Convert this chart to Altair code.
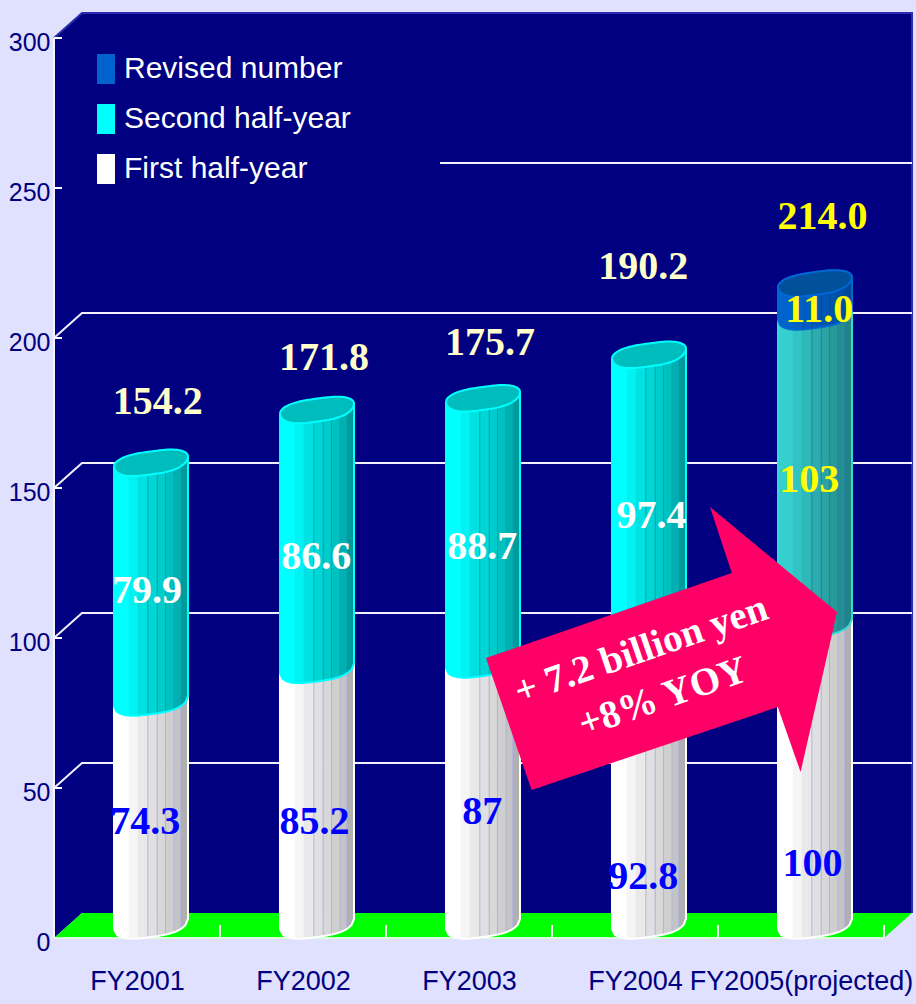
import math
import altair as alt
import pandas as pd

# ---- values ----
years = ["FY2001", "FY2002", "FY2003", "FY2004", "FY2005(projected)"]
first_half = [74.3, 85.2, 87, 92.8, 100]
second_half = [79.9, 86.6, 88.7, 97.4, 103]
revised = [0, 0, 0, 0, 11.0]
totals = [154.2, 171.8, 175.7, 190.2, 214.0]
y_ticks = [0, 50, 100, 150, 200, 250, 300]
legend_names = ["Revised number", "Second half-year", "First half-year"]

# where the value labels rest, in axis units
first_label_at = [38.7, 38.7, 42, 20.3, 24.7]
second_label_at = [115.7, 127, 130.3, 140.7, 152.7]
revised_label_at = [209.3]
total_label_at = [178.7, 193.3, 198.3, 223.7, 240.3]
first_label_x = [0.55, 1.57, 2.58, 3.55, 4.57]
second_label_x = [0.56, 1.58, 2.58, 3.6, 4.55]
revised_label_x = [4.61]
total_label_x = [0.625, 1.627, 2.627, 3.55, 4.63]

# ---- geometry of the pseudo-3D box and cylinders ----
PX_X = 166.0          # pixels per category
PX_Y = 3.0            # pixels per axis unit
DEPTH_X = 28 / PX_X   # box depth along x
DEPTH_Y = 25 / PX_Y   # box depth along y
HALF_W = 37 / PX_X    # cylinder half width
BAR_SHIFT = 14 / PX_X

# shaded strips across a cylinder, as fractions of its width
strip_edges = [0, 0.2, 0.32, 0.457, 0.583, 0.695, 0.81, 0.9, 1]
rib_edges = [0.457, 0.583, 0.695, 0.81, 0.9]
shades = {
    "white": ["#ffffff", "#f5f5f5", "#e9e9e9", "#e0e0e0", "#d8d8d8", "#cfcfcf", "#c4c4c4", "#b0b0b0"],
    "cyan": ["#00ffff", "#00f2f2", "#00e2e2", "#00d6d6", "#00cccc", "#00c0c0", "#00b0b0", "#009c9c"],
    "teal": ["#35cfcf", "#32c4c4", "#2fb8b8", "#2cadad", "#2aa3a3", "#279999", "#248f8f", "#208585"],
    "blue": ["#0062cc", "#0060c8", "#005cc0", "#0058b8", "#0056b4", "#0052ac", "#004ea4", "#00489c"],
}
rib_colors = {"white": "#b4b4e0", "cyan": "#00a8b4", "teal": "#2a7fa8", "blue": "#004a9c"}
edge_colors = {"white": "#ffffff", "cyan": "#00ffff", "teal": "#38d8d8", "blue": "#0066d0"}
cap_fill = {"cyan": "#00bdbd", "blue": "#00509a"}
cap_edge = {"cyan": "#00ffff", "blue": "#0068d8"}


def bulge(u):
    return math.sqrt(max(0, 1 - abs(u) ** 3))


def front(u):
    """Rise of the near edge of a cylinder section above its level, in axis units."""
    return (14 + 5 * u - 13 * bulge(u)) / PX_Y


def back(u):
    """Rise of the far edge of a cylinder section above its level, in axis units."""
    return (14 + 5 * u + 10 * bulge(u)) / PX_Y


def samples(a, b, n=8):
    return [a + (b - a) * i / n for i in range(n + 1)]


strips, ribs, outlines, caps = [], [], [], []


def add_segment(idx, base, top, tone, name):
    cx = idx + 0.5 + BAR_SHIFT
    for s in range(len(strip_edges) - 1):
        lo = -1 + 2 * strip_edges[s]
        hi = -1 + 2 * strip_edges[s + 1]
        for u in samples(lo, min(hi + 0.01, 1)):
            strips.append({
                "key": f"{name}-{idx}-{s}", "x": cx + u * HALF_W,
                "y": top + front(u), "y2": base + front(u), "c": shades[tone][s],
            })
    for e in rib_edges:
        u = -1 + 2 * e
        ribs.append({"x": cx + u * HALF_W, "y": top + front(u), "y2": base + front(u), "c": rib_colors[tone]})
    us = samples(-1, 1, 30)
    path = [(-1, top + front(-1))] + [(u, base + front(u)) for u in us] + [(1, top + front(1))]
    for n, (u, v) in enumerate(path):
        outlines.append({"key": f"{name}-{idx}", "x": cx + u * HALF_W, "y": v, "seq": n, "c": edge_colors[tone]})


def add_cap(idx, level, tone):
    cx = idx + 0.5 + BAR_SHIFT
    us = [-math.cos(math.pi * i / 40) for i in range(41)]
    for u in us:
        caps.append({"key": f"cap-{idx}", "x": cx + u * HALF_W, "y": level + back(u), "y2": level + front(u), "c": cap_fill[tone]})
    ring = [(u, level + back(u)) for u in us] + [(u, level + front(u)) for u in reversed(us)]
    for n, (u, v) in enumerate(ring):
        outlines.append({"key": f"capline-{idx}", "x": cx + u * HALF_W, "y": v, "seq": n, "c": cap_edge[tone]})


for i in range(len(years)):
    a = first_half[i]
    b = a + second_half[i]
    c = b + revised[i]
    add_segment(i, 0, a, "white", "first")
    add_segment(i, a, b, "teal" if revised[i] else "cyan", "second")
    if revised[i]:
        add_segment(i, b, c, "blue", "revised")
    add_cap(i, c, "blue" if revised[i] else "cyan")

strips_df = pd.DataFrame(strips)
ribs_df = pd.DataFrame(ribs)
outlines_df = pd.DataFrame(outlines)
caps_df = pd.DataFrame(caps)

n_years = len(years)
top = y_ticks[-1]

X_MAX = 860 / PX_X
Y_MAX = 928 / PX_Y
sx = alt.Scale(domain=[0, X_MAX], nice=False, zero=False)
sy = alt.Scale(domain=[0, Y_MAX], nice=False, zero=False)

# the category axis names the slots between its ticks
x_axis = alt.Axis(
    values=[i + 0.5 for i in range(n_years)],
    labelExpr="{}[floor(datum.value)]".format(years),
    labelFont="Liberation Sans", labelFontSize=27, labelColor="#000080",
    labelPadding=30, tickSize=0, domain=False, grid=False, labelOverlap=False,
    labelFlush=False, labelBound=False, labelLimit=400,
)
y_axis = alt.Axis(
    values=y_ticks,
    labelFont="Liberation Sans", labelFontSize=25, labelColor="#000080",
    labelPadding=4, labelOffset=4, tickSize=0, domain=False, grid=False, labelOverlap=False,
)
X = alt.X("x:Q", scale=sx, title=None, axis=x_axis)
Y = alt.Y("y:Q", scale=sy, title=None, axis=y_axis, stack=None)
C = alt.Color("c:N", scale=None)

# back and left walls
walls = alt.Chart(pd.DataFrame([
    {"x": 0, "y": top, "y2": 0},
    {"x": DEPTH_X, "y": top + DEPTH_Y, "y2": DEPTH_Y},
    {"x": n_years + DEPTH_X, "y": top + DEPTH_Y, "y2": DEPTH_Y},
])).mark_area(color="#000080").encode(X, Y, y2="y2:Q")

# floor
floor = alt.Chart(pd.DataFrame([
    {"x": 0, "y": 0, "y2": 0},
    {"x": DEPTH_X, "y": DEPTH_Y, "y2": 0},
    {"x": n_years, "y": DEPTH_Y, "y2": 0},
    {"x": n_years + DEPTH_X, "y": DEPTH_Y, "y2": DEPTH_Y},
])).mark_area(color="#00ff00").encode(X, Y, y2="y2:Q")

wall_edge = alt.Chart(pd.DataFrame([
    {"x": 0, "y": top, "seq": 0},
    {"x": DEPTH_X, "y": top + DEPTH_Y, "seq": 1},
    {"x": n_years + DEPTH_X, "y": top + DEPTH_Y, "seq": 2},
    {"x": n_years + DEPTH_X, "y": DEPTH_Y, "seq": 3},
])).mark_line(color="#2c2cb0", strokeWidth=2).encode(X, Y, order="seq:Q")

# gridlines: a slanted run on the left wall, then straight along the back wall
grid_rows = []
for v in y_ticks[1:-1]:
    grid_rows += [
        {"key": v, "x": 0, "y": v, "seq": 0},
        {"key": v, "x": DEPTH_X, "y": v + DEPTH_Y, "seq": 1},
        {"key": v, "x": n_years + DEPTH_X, "y": v + DEPTH_Y, "seq": 2},
    ]
grid = alt.Chart(pd.DataFrame(grid_rows)).mark_line(color="#f0f0ff", strokeWidth=2).encode(
    X, Y, detail="key:N", order="seq:Q"
)

# opaque panel behind the legend
legend_panel = alt.Chart(pd.DataFrame([
    {"x": 1 / PX_X, "x2": 386 / PX_X, "y": 246, "y2": 290}
])).mark_rect(color="#000080").encode(X, x2="x2:Q", y=Y, y2="y2:Q")

# y-axis ticks reach into the box
y_tick_marks = alt.Chart(pd.DataFrame({"y": y_ticks, "x": [0.0] * 7, "x2": [8 / PX_X] * 7})).mark_rule(
    color="#ffffff", strokeWidth=2
).encode(X, x2="x2:Q", y=Y)

y_spine = alt.Chart(pd.DataFrame([{"x": 0, "y": 0, "y2": top}])).mark_rule(
    color="#f4f4ff", strokeWidth=2
).encode(X, y=Y, y2="y2:Q")

# category ticks across the floor and the front edge
floor_ticks = alt.Chart(pd.DataFrame({
    "x": list(range(1, n_years + 1)), "y": [0] * n_years, "y2": [13 / PX_Y] * n_years,
})).mark_rule(color="#ecffec", strokeWidth=2).encode(X, y=Y, y2="y2:Q")

front_edge = alt.Chart(pd.DataFrame([{"x": 0, "x2": n_years, "y": 0}])).mark_rule(
    color="#d8ffd8", strokeWidth=2
).encode(X, x2="x2:Q", y=Y)

# cylinders
bodies = alt.Chart(strips_df).mark_area().encode(X, Y, y2="y2:Q", color=C, detail="key:N")
rib_lines = alt.Chart(ribs_df).mark_rule(strokeWidth=1).encode(X, y=Y, y2="y2:Q", color=C)
cap_fills = alt.Chart(caps_df).mark_area().encode(X, Y, y2="y2:Q", color=C, detail="key:N")
edges = alt.Chart(outlines_df).mark_line(strokeWidth=2).encode(X, Y, color=C, detail="key:N", order="seq:Q")


def labels(texts, xs, ys, color, size):
    df = pd.DataFrame({"t": texts, "x": xs, "y": ys})
    return alt.Chart(df).mark_text(
        font="Liberation Serif", fontWeight="bold", fontSize=size, color=color, baseline="middle"
    ).encode(X, Y, text="t:N")


first_labels = labels([f"{v:g}" for v in first_half], first_label_x, first_label_at, "#0000ff", 40)
second_labels = labels([f"{v:g}" for v in second_half[:4]], second_label_x[:4], second_label_at[:4], "#ffffff", 40)
teal_label = labels([f"{second_half[4]:g}"], second_label_x[4:], second_label_at[4:], "#ffff00", 40)
revised_labels = labels([f"{revised[4]:.1f}"], revised_label_x, revised_label_at, "#ffff00", 40)
total_labels = labels([f"{v:.1f}" for v in totals[:4]], total_label_x[:4], total_label_at[:4], "#ffffcc", 40)
total_last = labels([f"{totals[4]:.1f}"], total_label_x[4:], total_label_at[4:], "#ffff00", 40)

# callout arrow, drawn as one symbol with a custom outline
arrow_path = "M-0.87,0.09 L0.359,-0.335 L0.25,-0.665 L0.885,-0.14 L0.703,0.66 L0.589,0.335 L-0.642,0.75 Z"
arrow = alt.Chart(pd.DataFrame([{"x": (660 - 54) / PX_X, "y": (938 - 640) / PX_Y}])).mark_point(
    shape=arrow_path, size=160000, filled=True, fill="#ff0066", stroke=None, opacity=1
).encode(X, Y)

callout = alt.Chart(pd.DataFrame([
    {"t": "+ 7.2 billion yen", "x": (641 - 54) / PX_X, "y": (938 - 650) / PX_Y},
    {"t": "+8% YOY", "x": (663 - 54) / PX_X, "y": (938 - 697) / PX_Y},
])).mark_text(
    font="Liberation Serif", fontWeight="bold", fontSize=39, color="#ffffff", angle=341, baseline="middle"
).encode(X, Y, text="t:N")

# invisible marks that carry the legend entries
legend_layer = alt.Chart(pd.DataFrame({"x": [0.5], "y": [0.0], "series": [legend_names[0]]})).mark_square(opacity=0).encode(
    X, Y,
    fill=alt.Fill("series:N", scale=alt.Scale(domain=legend_names, range=["#0062cc", "#00ffff", "#ffffff"]),
                  legend=alt.Legend(
                      orient="none", legendX=37, legendY=44, title=None,
                      symbolType="M-0.6,-1H0.6V1H-0.6Z", symbolSize=900, symbolOpacity=1,
                      symbolStrokeWidth=0,
                      labelFont="Liberation Sans", labelFontSize=30, labelColor="#ffffff",
                      labelOffset=3, labelLimit=400, rowPadding=20, padding=0,
                  )),
)

chart = alt.layer(
    walls, floor, wall_edge, grid, legend_panel, y_tick_marks, y_spine, floor_ticks, front_edge,
    bodies, rib_lines, cap_fills, edges,
    first_labels, second_labels, teal_label, revised_labels, total_labels, total_last,
    arrow, callout, legend_layer,
).properties(
    width=860, height=928, background="#e0e0ff",
    padding={"left": 54, "top": 10, "right": 2, "bottom": 66},
    autosize=alt.AutoSizeParams(type="none"),
).configure_view(stroke=None)

chart.save("out.html", embed_options={"renderer": "svg", "actions": False})
